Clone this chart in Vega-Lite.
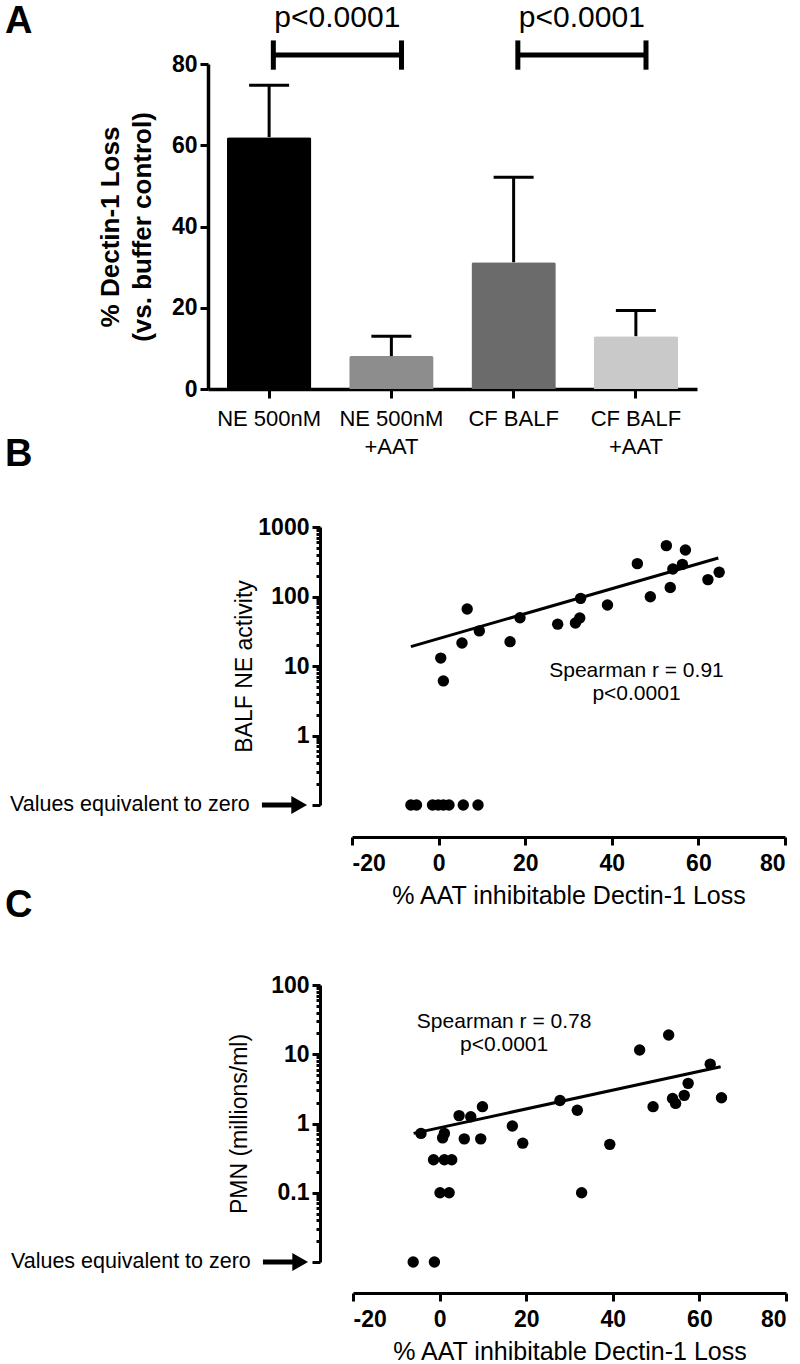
{
  "$schema": "https://vega.github.io/schema/vega-lite/v6.json",
  "padding": {"left": 5, "top": 3, "right": 5, "bottom": 5},
  "background": "white",
  "spacing": -21,
  "config": {
    "font": "Liberation Sans",
    "view": {"stroke": null},
    "axis": {
      "grid": false,
      "domainColor": "black",
      "tickColor": "black",
      "labelColor": "black",
      "titleColor": "black",
      "domainWidth": 3,
      "tickWidth": 3,
      "tickSize": 8,
      "labelFont": "Liberation Sans",
      "titleFont": "Liberation Sans",
      "labelFontSize": 23,
      "labelFontWeight": "bold",
      "labelPadding": 3
    },
    "title": {"color": "black", "font": "Liberation Sans"}
  },
  "datasets": {
    "bars": [
      {"cond": "NE 500nM", "mean": 62.0, "upper": 74.8},
      {"cond": "NE 500nM +AAT", "mean": 8.1, "upper": 13.0},
      {"cond": "CF BALF", "mean": 31.2, "upper": 52.1},
      {"cond": "CF BALF +AAT", "mean": 13.0, "upper": 19.3}
    ],
    "brackets": [
      {"from": "NE 500nM", "to": "NE 500nM +AAT", "p": "p<0.0001"},
      {"from": "CF BALF", "to": "CF BALF +AAT", "p": "p<0.0001"}
    ],
    "ne": [
      {"loss": 0.5, "ne": 13}, {"loss": 1.1, "ne": 6.1}, {"loss": 6.6, "ne": 66},
      {"loss": 5.4, "ne": 21.4}, {"loss": 9.4, "ne": 32}, {"loss": 16.5, "ne": 22.4},
      {"loss": 18.8, "ne": 49.5}, {"loss": 27.5, "ne": 40}, {"loss": 31.6, "ne": 41.6},
      {"loss": 32.6, "ne": 49}, {"loss": 32.8, "ne": 94}, {"loss": 39.0, "ne": 75.5},
      {"loss": 45.9, "ne": 297}, {"loss": 48.9, "ne": 99}, {"loss": 52.6, "ne": 539},
      {"loss": 53.5, "ne": 135}, {"loss": 54.1, "ne": 249}, {"loss": 56.3, "ne": 290},
      {"loss": 57.0, "ne": 467}, {"loss": 62.2, "ne": 175}, {"loss": 64.8, "ne": 223},
      {"loss": -6.4, "ne": 0.1}, {"loss": -5.1, "ne": 0.1}, {"loss": -1.4, "ne": 0.1},
      {"loss": -0.1, "ne": 0.1}, {"loss": 1.1, "ne": 0.1}, {"loss": 2.4, "ne": 0.1},
      {"loss": 5.7, "ne": 0.1}, {"loss": 9.1, "ne": 0.1}
    ],
    "fitB": [{"loss": -6.4, "ne": 19}, {"loss": 64.6, "ne": 358}],
    "pmn": [
      {"loss": -4.3, "pmn": 0.72}, {"loss": 0.7, "pmn": 0.62}, {"loss": 1.1, "pmn": 0.72},
      {"loss": -1.4, "pmn": 0.3}, {"loss": 1.1, "pmn": 0.3}, {"loss": 2.8, "pmn": 0.3},
      {"loss": 0.1, "pmn": 0.1}, {"loss": 2.2, "pmn": 0.1}, {"loss": 5.7, "pmn": 0.6},
      {"loss": 4.5, "pmn": 1.3}, {"loss": 7.2, "pmn": 1.25}, {"loss": 9.9, "pmn": 1.75},
      {"loss": 9.5, "pmn": 0.6}, {"loss": 16.8, "pmn": 0.92}, {"loss": 19.2, "pmn": 0.52},
      {"loss": 27.8, "pmn": 2.15}, {"loss": 31.8, "pmn": 1.55}, {"loss": 32.8, "pmn": 0.1},
      {"loss": 39.3, "pmn": 0.5}, {"loss": 46.2, "pmn": 11.5}, {"loss": 49.3, "pmn": 1.75},
      {"loss": 52.9, "pmn": 19}, {"loss": 53.8, "pmn": 2.3}, {"loss": 54.5, "pmn": 1.95},
      {"loss": 56.5, "pmn": 2.55}, {"loss": 57.4, "pmn": 3.8}, {"loss": 62.5, "pmn": 7.2},
      {"loss": 65.1, "pmn": 2.35},
      {"loss": -6.1, "pmn": 0.01}, {"loss": -1.2, "pmn": 0.01}
    ],
    "fitC": [{"loss": -6.0, "pmn": 0.72}, {"loss": 64.9, "pmn": 6.6}]
  },
  "vconcat": [
    {
      "width": 489,
      "height": 325,
      "title": {"text": "A", "anchor": "start", "frame": "group", "fontSize": 38, "fontWeight": "bold", "baseline": "alphabetic", "offset": 0, "dx": -203, "dy": 68},
      "layer": [
        {
          "data": {"name": "bars"},
          "mark": {"type": "bar", "cornerRadiusTopLeft": 2, "cornerRadiusTopRight": 2},
          "encoding": {
            "x": {
              "field": "cond", "type": "nominal",
              "scale": {"domain": ["NE 500nM", "NE 500nM +AAT", "CF BALF", "CF BALF +AAT"], "paddingInner": 0.31, "paddingOuter": 0.155},
              "axis": {
                "title": null, "labelAngle": 0, "labelFontWeight": "normal", "labelFontSize": 22,
                "labelLineHeight": 28, "labelPadding": 10, "tickSize": 9, "domainWidth": 3.5, "tickWidth": 3,
                "labelExpr": "indexof(datum.label, ' +AAT') > 0 ? [replace(datum.label, ' +AAT', ''), '+AAT'] : datum.label"
              }
            },
            "y": {
              "field": "mean", "type": "quantitative",
              "scale": {"domain": [0, 80]},
              "axis": {
                "values": [0, 20, 40, 60, 80],
                "title": ["% Dectin-1 Loss", "(vs. buffer control)"],
                "titleFontSize": 26, "titleFontWeight": "bold", "titleLineHeight": 32, "titlePadding": 16,
                "domainWidth": 3.5
              }
            },
            "color": {
              "field": "cond", "type": "nominal", "legend": null,
              "scale": {"domain": ["NE 500nM", "NE 500nM +AAT", "CF BALF", "CF BALF +AAT"], "range": ["#000000", "#8d8d8d", "#6b6b6b", "#c9c9c9"]}
            }
          }
        },
        {
          "data": {"name": "bars"},
          "mark": {"type": "rule", "strokeWidth": 3, "color": "black"},
          "encoding": {
            "x": {"field": "cond", "type": "nominal"},
            "y": {"field": "mean", "type": "quantitative"},
            "y2": {"field": "upper"}
          }
        },
        {
          "data": {"name": "bars"},
          "mark": {"type": "tick", "thickness": 3, "size": 40, "color": "black", "opacity": 1},
          "encoding": {
            "x": {"field": "cond", "type": "nominal"},
            "y": {"field": "upper", "type": "quantitative"}
          }
        },
        {
          "data": {"name": "brackets"},
          "mark": {"type": "rule", "strokeWidth": 5, "color": "black"},
          "encoding": {
            "x": {"field": "from", "type": "nominal", "bandPosition": 0.55},
            "x2": {"field": "to", "bandPosition": 0.62},
            "y": {"datum": 82.2}
          }
        },
        {
          "data": {"name": "brackets"},
          "mark": {"type": "rule", "strokeWidth": 5, "color": "black"},
          "encoding": {
            "x": {"field": "from", "type": "nominal", "bandPosition": 0.55},
            "y": {"datum": 78.6},
            "y2": {"datum": 85.8}
          }
        },
        {
          "data": {"name": "brackets"},
          "mark": {"type": "rule", "strokeWidth": 5, "color": "black"},
          "encoding": {
            "x": {"field": "to", "type": "nominal", "bandPosition": 0.62},
            "y": {"datum": 78.6},
            "y2": {"datum": 85.8}
          }
        },
        {
          "data": {"name": "brackets"},
          "mark": {"type": "text", "fontSize": 30, "baseline": "alphabetic", "align": "center", "dx": 64, "color": "black"},
          "encoding": {
            "x": {"field": "from", "type": "nominal", "bandPosition": 0.55},
            "y": {"datum": 89.1},
            "text": {"field": "p"}
          }
        }
      ]
    },
    {
      "width": 577,
      "height": 278,
      "title": {"text": "B", "anchor": "start", "frame": "group", "fontSize": 38, "fontWeight": "bold", "baseline": "alphabetic", "offset": 0, "dx": -203, "dy": -12},
      "layer": [
        {
          "data": {"name": "ne"},
          "mark": {"type": "circle", "size": 130, "opacity": 1, "color": "black"},
          "encoding": {
            "x": {
              "field": "loss", "type": "quantitative",
              "scale": {"domain": [-20, 80], "nice": false, "zero": false, "range": [144, 577]},
              "axis": {
                "values": [-20, 0, 20, 40, 60, 80], "offset": 32, "labelPadding": 7,
                "labelExpr": "(datum.value < 0 ? '-' : '') + abs(datum.value)",
                "title": "% AAT inhibitable Dectin-1 Loss", "titleFontSize": 25, "titleFontWeight": "normal", "titlePadding": 8
              }
            },
            "y": {
              "field": "ne", "type": "quantitative",
              "scale": {"type": "log", "domain": [0.1, 1000], "nice": false},
              "axis": {
                "offset": -112,
                "values": [0.1,0.2,0.3,0.4,0.5,0.6,0.7,0.8,0.9,1,2,3,4,5,6,7,8,9,10,20,30,40,50,60,70,80,90,100,200,300,400,500,600,700,800,900,1000],
                "labelExpr": "datum.value == 1 ? '1' : datum.value == 10 ? '10' : datum.value == 100 ? '100' : datum.value == 1000 ? '1000' : ''",
                "tickSize": {"condition": {"test": "datum.value == 0.1 || datum.value == 1 || datum.value == 10 || datum.value == 100 || datum.value == 1000", "value": 8}, "value": 4},
                "labelOverlap": false,
                "title": "BALF NE activity", "titleFontSize": 23, "titleFontWeight": "normal", "titlePadding": 1
              }
            }
          }
        },
        {
          "data": {"name": "fitB"},
          "mark": {"type": "line", "color": "black", "strokeWidth": 3},
          "encoding": {
            "x": {"field": "loss", "type": "quantitative"},
            "y": {"field": "ne", "type": "quantitative"}
          }
        },
        {
          "data": {"values": [{}]},
          "mark": {"type": "text", "text": ["Spearman r = 0.91", "p<0.0001"], "fontSize": 21, "lineHeight": 23, "align": "center", "baseline": "middle", "color": "black"},
          "encoding": {"x": {"datum": 45.7}, "y": {"datum": 8.55}}
        },
        {
          "data": {"values": [{}]},
          "mark": {"type": "text", "text": "Values equivalent to zero", "fontSize": 21.5, "align": "right", "baseline": "middle", "color": "black"},
          "encoding": {"x": {"datum": -43.6}, "y": {"datum": 0.1}}
        },
        {
          "data": {"values": [{}]},
          "mark": {"type": "rule", "strokeWidth": 5, "color": "black"},
          "encoding": {"x": {"datum": -40.8}, "x2": {"datum": -33.8}, "y": {"datum": 0.1}}
        },
        {
          "data": {"values": [{}]},
          "mark": {"type": "point", "shape": "triangle-right", "size": 330, "filled": true, "opacity": 1, "color": "black"},
          "encoding": {"x": {"datum": -32.2}, "y": {"datum": 0.1}}
        }
      ]
    },
    {
      "width": 578,
      "height": 277,
      "title": {"text": "C", "anchor": "start", "frame": "group", "fontSize": 38, "fontWeight": "bold", "baseline": "alphabetic", "offset": 0, "dx": -203, "dy": -19},
      "layer": [
        {
          "data": {"name": "pmn"},
          "mark": {"type": "circle", "size": 130, "opacity": 1, "color": "black"},
          "encoding": {
            "x": {
              "field": "loss", "type": "quantitative",
              "scale": {"domain": [-20, 80], "nice": false, "zero": false, "range": [145, 578]},
              "axis": {
                "values": [-20, 0, 20, 40, 60, 80], "offset": 31, "labelPadding": 7,
                "labelExpr": "(datum.value < 0 ? '-' : '') + abs(datum.value)",
                "title": "% AAT inhibitable Dectin-1 Loss", "titleFontSize": 25, "titleFontWeight": "normal", "titlePadding": 8
              }
            },
            "y": {
              "field": "pmn", "type": "quantitative",
              "scale": {"type": "log", "domain": [0.01, 100], "nice": false},
              "axis": {
                "offset": -112,
                "values": [0.01,0.02,0.03,0.04,0.05,0.06,0.07,0.08,0.09,0.1,0.2,0.3,0.4,0.5,0.6,0.7,0.8,0.9,1,2,3,4,5,6,7,8,9,10,20,30,40,50,60,70,80,90,100],
                "labelExpr": "datum.value == 0.1 ? '0.1' : datum.value == 1 ? '1' : datum.value == 10 ? '10' : datum.value == 100 ? '100' : ''",
                "tickSize": {"condition": {"test": "datum.value == 0.01 || datum.value == 0.1 || datum.value == 1 || datum.value == 10 || datum.value == 100", "value": 8}, "value": 4},
                "labelOverlap": false,
                "title": "PMN (millions/ml)", "titleFontSize": 23, "titleFontWeight": "normal", "titlePadding": 19
              }
            }
          }
        },
        {
          "data": {"name": "fitC"},
          "mark": {"type": "line", "color": "black", "strokeWidth": 3},
          "encoding": {
            "x": {"field": "loss", "type": "quantitative"},
            "y": {"field": "pmn", "type": "quantitative"}
          }
        },
        {
          "data": {"values": [{}]},
          "mark": {"type": "text", "text": ["Spearman r = 0.78", "p<0.0001"], "fontSize": 21, "lineHeight": 23, "align": "center", "baseline": "middle", "color": "black"},
          "encoding": {"x": {"datum": 14.9}, "y": {"datum": 28.9}}
        },
        {
          "data": {"values": [{}]},
          "mark": {"type": "text", "text": "Values equivalent to zero", "fontSize": 21.5, "align": "right", "baseline": "middle", "color": "black"},
          "encoding": {"x": {"datum": -43.6}, "y": {"datum": 0.01}}
        },
        {
          "data": {"values": [{}]},
          "mark": {"type": "rule", "strokeWidth": 5, "color": "black"},
          "encoding": {"x": {"datum": -40.8}, "x2": {"datum": -33.8}, "y": {"datum": 0.01}}
        },
        {
          "data": {"values": [{}]},
          "mark": {"type": "point", "shape": "triangle-right", "size": 330, "filled": true, "opacity": 1, "color": "black"},
          "encoding": {"x": {"datum": -32.2}, "y": {"datum": 0.01}}
        }
      ]
    }
  ]
}
